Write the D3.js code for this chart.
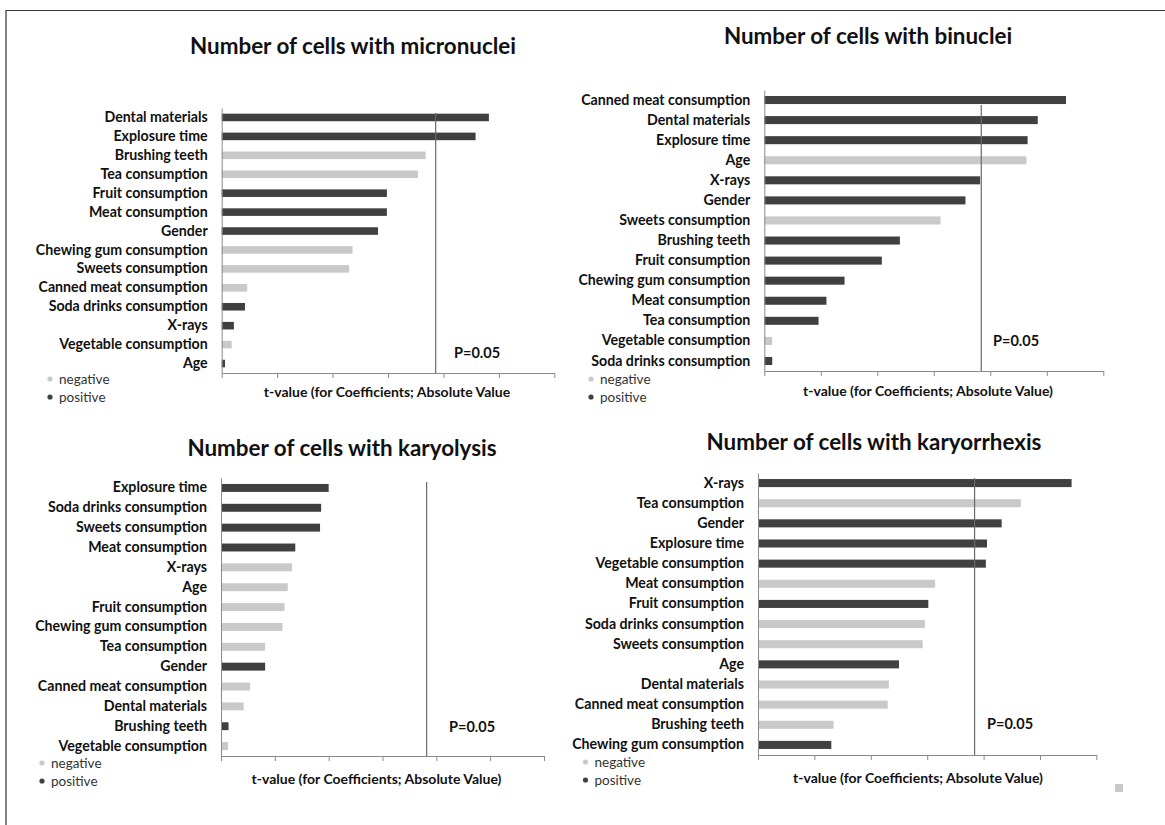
<!DOCTYPE html>
<html>
<head>
<meta charset="utf-8">
<script src="https://cdn.jsdelivr.net/npm/d3@7"></script>
<style>
  html, body { margin: 0; padding: 0; background: #fff; }
  svg { display: block; font-family: Lato, "Open Sans", sans-serif; }
</style>
</head>
<body>
<svg id="chart" width="1165" height="825"></svg>
<script>
// ---- data (t-values, absolute) ----
const micronucleiCategories = ['Dental materials', 'Explosure time', 'Brushing teeth', 'Tea consumption', 'Fruit consumption', 'Meat consumption', 'Gender', 'Chewing gum consumption', 'Sweets consumption', 'Canned meat consumption', 'Soda drinks consumption', 'X-rays', 'Vegetable consumption', 'Age'];
const micronucleiValues = [2.41, 2.29, 1.84, 1.77, 1.49, 1.49, 1.41, 1.18, 1.15, 0.23, 0.21, 0.11, 0.09, 0.03];
const micronucleiSigns = ['positive', 'positive', 'negative', 'negative', 'positive', 'positive', 'positive', 'negative', 'negative', 'negative', 'positive', 'positive', 'negative', 'positive'];

const binucleiCategories = ['Canned meat consumption', 'Dental materials', 'Explosure time', 'Age', 'X-rays', 'Gender', 'Sweets consumption', 'Brushing teeth', 'Fruit consumption', 'Chewing gum consumption', 'Meat consumption', 'Tea consumption', 'Vegetable consumption', 'Soda drinks consumption'];
const binucleiValues = [2.67, 2.42, 2.33, 2.32, 1.91, 1.78, 1.56, 1.20, 1.04, 0.71, 0.55, 0.48, 0.07, 0.07];
const binucleiSigns = ['positive', 'positive', 'positive', 'negative', 'positive', 'positive', 'negative', 'positive', 'positive', 'positive', 'positive', 'positive', 'negative', 'positive'];

const karyolysisCategories = ['Explosure time', 'Soda drinks consumption', 'Sweets consumption', 'Meat consumption', 'X-rays', 'Age', 'Fruit consumption', 'Chewing gum consumption', 'Tea consumption', 'Gender', 'Canned meat consumption', 'Dental materials', 'Brushing teeth', 'Vegetable consumption'];
const karyolysisValues = [1.00, 0.93, 0.92, 0.69, 0.66, 0.62, 0.59, 0.57, 0.41, 0.41, 0.27, 0.21, 0.07, 0.065];
const karyolysisSigns = ['positive', 'positive', 'positive', 'positive', 'negative', 'negative', 'negative', 'negative', 'negative', 'positive', 'negative', 'negative', 'positive', 'negative'];

const karyorrhexisCategories = ['X-rays', 'Tea consumption', 'Gender', 'Explosure time', 'Vegetable consumption', 'Meat consumption', 'Fruit consumption', 'Soda drinks consumption', 'Sweets consumption', 'Age', 'Dental materials', 'Canned meat consumption', 'Brushing teeth', 'Chewing gum consumption'];
const karyorrhexisValues = [2.78, 2.33, 2.16, 2.03, 2.02, 1.57, 1.51, 1.48, 1.46, 1.25, 1.16, 1.15, 0.67, 0.65];
const karyorrhexisSigns = ['positive', 'negative', 'positive', 'positive', 'positive', 'negative', 'positive', 'negative', 'negative', 'positive', 'negative', 'negative', 'negative', 'positive'];

const panelTitles = ['Number of cells with micronuclei', 'Number of cells with binuclei', 'Number of cells with karyolysis', 'Number of cells with karyorrhexis'];
const axisTitles = ['t-value (for Coefficients; Absolute Value', 't-value (for Coefficients; Absolute Value)', 't-value (for Coefficients; Absolute Value)', 't-value (for Coefficients; Absolute Value)'];
const criticalValues = [1.93, 1.92, 1.91, 1.92];
const xTicks = [0, 0.5, 1, 1.5, 2, 2.5, 3];
const legendLabels = ['negative', 'positive'];
const pLabel = 'P=0.05';

// ---- layout ----
const colors = { negative: '#c9c9c9', positive: '#404040' };
const axisColor = '#8a8a8a';
const textColor = '#111';

const layouts = [
    { x0: 221.7, x1: 554.3, yTop: 108, yBase: 373, pTop: 113, titleX: 353, titleY: 46, axisTitleX: 387, axisTitleY: 392, legendX: 50, legendY: [379, 397], pX: 454, pY: 358 },
    { x0: 764.3, x1: 1103.3, yTop: 90, yBase: 371, pTop: 105, titleX: 868, titleY: 36, axisTitleX: 928, axisTitleY: 391, legendX: 591, legendY: [379, 397], pX: 993, pY: 346 },
    { x0: 221, x1: 544, yTop: 478, yBase: 756, pTop: 482, titleX: 342, titleY: 448, axisTitleX: 376.5, axisTitleY: 779, legendX: 42, legendY: [763, 781], pX: 449, pY: 732 },
    { x0: 758, x1: 1096.4, yTop: 473, yBase: 755, pTop: 478, titleX: 874, titleY: 442, axisTitleX: 918, axisTitleY: 778, legendX: 585.5, legendY: [762, 780], pX: 987, pY: 729 }
];

const panels = [
    { categories: micronucleiCategories, values: micronucleiValues, signs: micronucleiSigns },
    { categories: binucleiCategories, values: binucleiValues, signs: binucleiSigns },
    { categories: karyolysisCategories, values: karyolysisValues, signs: karyolysisSigns },
    { categories: karyorrhexisCategories, values: karyorrhexisValues, signs: karyorrhexisSigns }
];

const svg = d3.select('#chart');

// outer frame (only top and left edges are visible in the figure)
svg.append('path')
    .attr('d', 'M6,825 V10.5 H1165')
    .attr('fill', 'none')
    .attr('stroke', '#333')
    .attr('stroke-width', 1.2);

const drawPanel = (panel, i) => {
    const L = layouts[i];
    const g = svg.append('g').attr('class', 'panel');

    const x = d3.scaleLinear().domain([0, 3]).range([L.x0, L.x1]);
    const y = d3.scaleBand()
        .domain(panel.categories)
        .range([L.yTop, L.yBase])
        .paddingInner(0.6)
        .paddingOuter(0.3);

    const rows = panel.categories.map((c, k) => ({ category: c, value: panel.values[k], sign: panel.signs[k] }));

    // bars
    g.append('g')
        .selectAll('rect')
        .data(rows)
        .enter()
        .append('rect')
        .attr('x', x(0))
        .attr('y', d => y(d.category))
        .attr('width', d => x(d.value) - x(0))
        .attr('height', y.bandwidth())
        .attr('fill', d => colors[d.sign]);

    // critical t-value line
    g.append('line')
        .attr('x1', x(criticalValues[i]))
        .attr('x2', x(criticalValues[i]))
        .attr('y1', L.pTop)
        .attr('y2', L.yBase)
        .attr('stroke', '#6a6a6a')
        .attr('stroke-width', 1.2);

    g.append('text')
        .attr('x', L.pX)
        .attr('y', L.pY)
        .attr('font-size', 14.5)
        .attr('font-weight', 'bold')
        .attr('fill', textColor)
        .text(pLabel);

    // x axis (ticks only, no labels)
    const xAxis = g.append('g')
        .attr('transform', `translate(0, ${L.yBase})`)
        .call(d3.axisBottom(x).tickValues(xTicks).tickSize(5).tickSizeOuter(0).tickFormat(''));
    xAxis.select('.domain').attr('stroke', axisColor);
    xAxis.selectAll('.tick line').attr('stroke', axisColor);

    // y axis with category labels
    const yAxis = g.append('g')
        .attr('transform', `translate(${x(0)}, 0)`)
        .call(d3.axisLeft(y).tickSize(0).tickSizeOuter(0).tickPadding(14));
    yAxis.select('.domain').attr('stroke', axisColor);
    yAxis.selectAll('.tick text')
        .attr('font-family', 'Lato, "Open Sans", sans-serif')
        .attr('font-size', 14.2)
        .attr('font-weight', 'bold')
        .attr('fill', textColor);

    // titles
    g.append('text')
        .attr('x', L.titleX)
        .attr('y', L.titleY)
        .attr('dy', '0.35em')
        .attr('text-anchor', 'middle')
        .attr('font-size', 22.4)
        .attr('font-weight', 'bold')
        .attr('fill', textColor)
        .text(panelTitles[i]);

    g.append('text')
        .attr('x', L.axisTitleX)
        .attr('y', L.axisTitleY)
        .attr('dy', '0.35em')
        .attr('text-anchor', 'middle')
        .attr('font-size', 14)
        .attr('font-weight', 'bold')
        .attr('fill', textColor)
        .text(axisTitles[i]);

    // legend
    const legend = g.append('g')
        .selectAll('g')
        .data(legendLabels)
        .enter()
        .append('g')
        .attr('transform', (d, k) => `translate(${L.legendX}, ${L.legendY[k]})`);

    legend.append('circle')
        .attr('r', 2.6)
        .attr('fill', d => colors[d]);

    legend.append('text')
        .attr('x', 9)
        .attr('dy', '0.35em')
        .attr('font-size', 13.5)
        .attr('fill', '#333')
        .text(d => d);
};

panels.forEach(drawPanel);

// small grey marker at the bottom right of the figure
svg.append('rect')
    .attr('x', 1115)
    .attr('y', 784)
    .attr('width', 8)
    .attr('height', 8)
    .attr('fill', '#c9c9c9');
</script>
</body>
</html>
